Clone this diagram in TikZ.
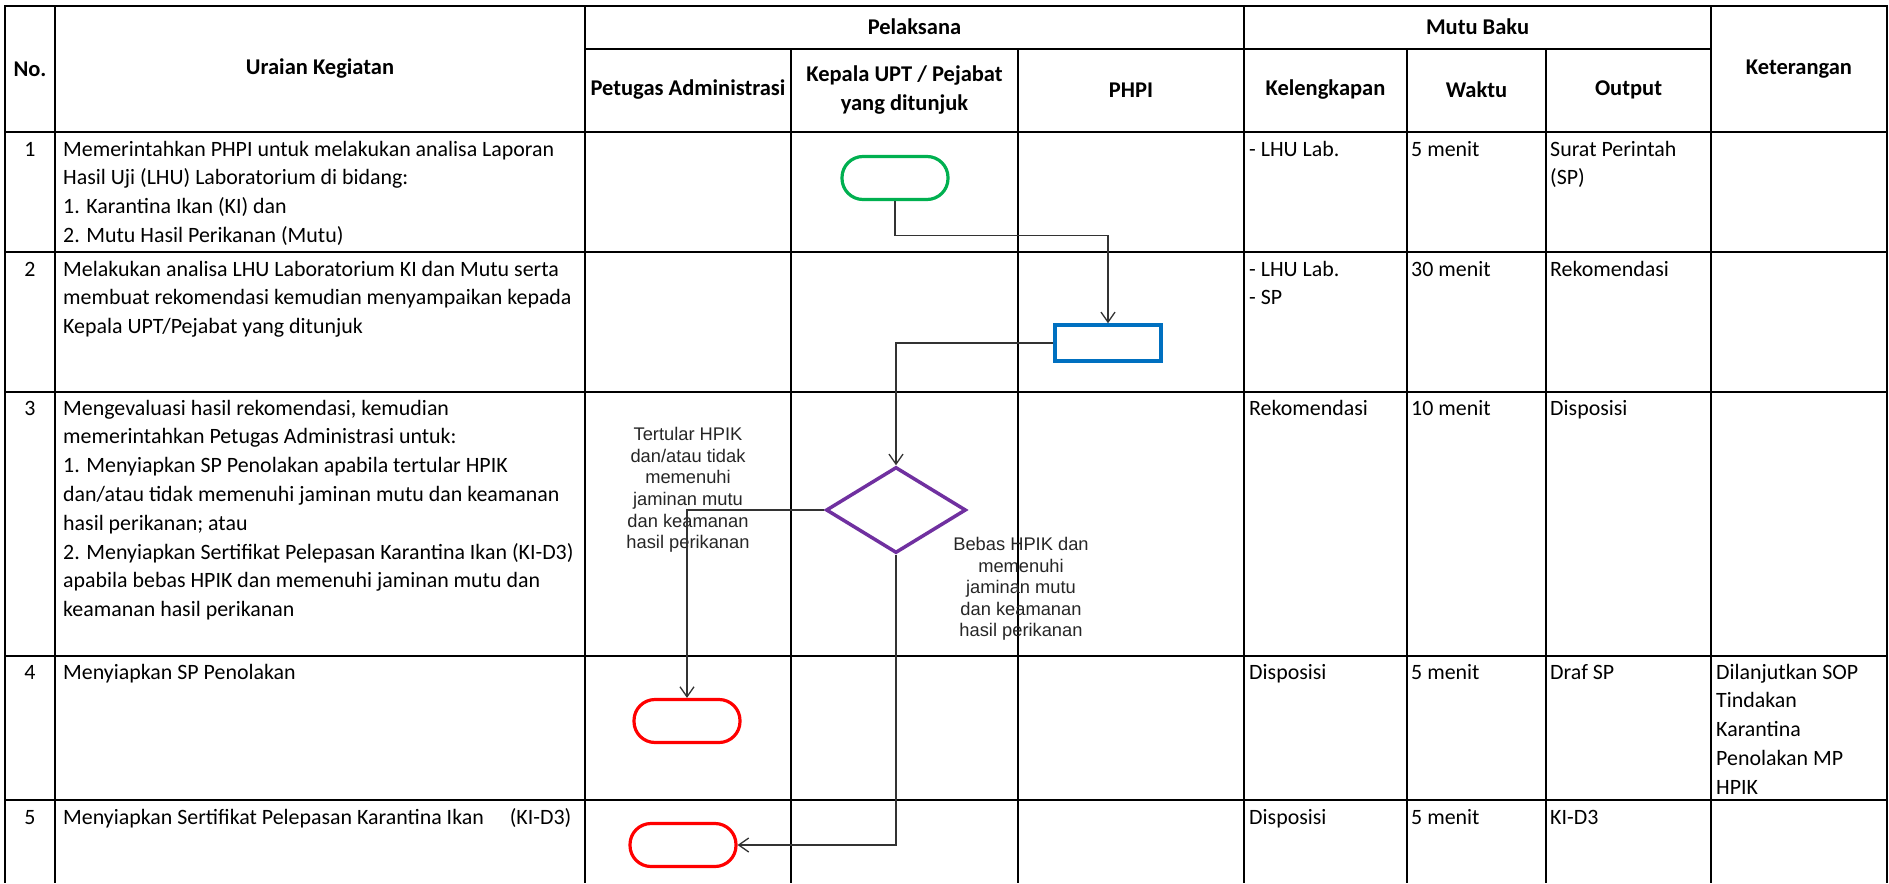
\documentclass[tikz,border=0pt]{standalone}
\usepackage{fontspec}
\setmainfont{Carlito}
\newfontfamily\arialf{Liberation Sans}
\usetikzlibrary{arrows.meta,shapes.geometric}
\definecolor{tgreen}{HTML}{00B050}
\definecolor{tblue}{HTML}{0070C0}
\definecolor{tpurple}{HTML}{7030A0}
\definecolor{tred}{HTML}{FF0000}
\newcommand{\celltxt}[1]{\begin{tabular}[t]{@{}l@{}}#1\end{tabular}}
\begin{document}
\begin{tikzpicture}[x=1pt,y=-1pt,
  grid/.style={line width=2.2pt,black},
  cell/.style={inner sep=0pt,anchor=base west,font=\fontsize{21.9}{28.8}\selectfont},
  num/.style={inner sep=0pt,anchor=base,font=\fontsize{21.9}{28.8}\selectfont},
  hdr/.style={inner sep=0pt,align=center,font=\fontsize{22.5}{28.5}\selectfont\bfseries},
  term/.style={draw,rectangle,rounded corners=21pt,minimum width=106pt,minimum height=43pt,line width=3.2pt,inner sep=0pt},
  proc/.style={draw,rectangle,minimum width=106pt,minimum height=36pt,line width=3.5pt,inner sep=0pt},
  dec/.style={draw,diamond,minimum width=140pt,minimum height=86pt,line width=3.5pt,inner sep=0pt},
  conn/.style={line width=1.3pt,black!80},
  arr/.style={conn,-{Straight Barb[length=10pt,width=14pt,line width=1.3pt]}},
  lbl/.style={inner sep=0pt,align=center,text=black!85,font=\arialf\fontsize{18.3}{21.6}\selectfont}
]
\useasboundingbox (0,0) rectangle (1889,883);
\fill[white] (0,0) rectangle (1889,883);

% ---- grid ----
\foreach \x in {5,55,585,1244,1711,1887} \draw[grid] (\x,6) -- (\x,883);
\foreach \x in {791,1018,1407,1546} \draw[grid] (\x,49) -- (\x,883);
\draw[grid] (4,6) -- (1888,6);
\draw[grid] (585,49) -- (1711,49);
\foreach \y in {132,252,392,656,800} \draw[grid] (4,\y) -- (1888,\y);

% ---- header ----
\node[hdr] (hno) at (30,69) {No.};
\node[hdr] (hur) at (320,69) {Uraian Kegiatan};
\node[hdr] (hpel) at (914.5,27) {Pelaksana};
\node[hdr] (hmb) at (1477.5,27) {Mutu Baku};
\node[hdr] (hket) at (1799,69) {Keterangan};
\node[hdr] (hpa) at (688,90) {Petugas Administrasi};
\node[hdr] (hkp) at (904.5,90) {Kepala UPT / Pejabat\\yang ditunjuk};
\node[hdr] (hph) at (1131,90) {PHPI};
\node[hdr] (hkel) at (1325.5,90) {Kelengkapan};
\node[hdr] (hwk) at (1476.5,90) {Waktu};
\node[hdr] (hout) at (1628.5,90) {Output};

% ---- row 1 ----
\node[num] (n1) at (30,156) {1};
\node[cell] (u1) at (63,156) {\celltxt{Memerintahkan PHPI untuk melakukan analisa Laporan\\Hasil Uji (LHU) Laboratorium di bidang:\\1. Karantina Ikan (KI) dan\\2. Mutu Hasil Perikanan (Mutu)}};
\node[cell] (k1) at (1249,156) {- LHU Lab.};
\node[cell] (w1) at (1411,156) {5 menit};
\node[cell] (o1) at (1550,156) {\celltxt{Surat Perintah\\(SP)}};

% ---- row 2 ----
\node[num] (n2) at (30,276) {2};
\node[cell] (u2) at (63,276) {\celltxt{Melakukan analisa LHU Laboratorium KI dan Mutu serta\\membuat rekomendasi kemudian menyampaikan kepada\\Kepala UPT/Pejabat yang ditunjuk}};
\node[cell] (k2) at (1249,276) {\celltxt{- LHU Lab.\\- SP}};
\node[cell] (w2) at (1411,276) {30 menit};
\node[cell] (o2) at (1550,276) {Rekomendasi};

% ---- row 3 ----
\node[num] (n3) at (30,415) {3};
\node[cell] (u3) at (63,415) {\celltxt{Mengevaluasi hasil rekomendasi, kemudian\\memerintahkan Petugas Administrasi untuk:\\1. Menyiapkan SP Penolakan apabila tertular HPIK\\dan/atau tidak memenuhi jaminan mutu dan keamanan\\hasil perikanan; atau\\2. Menyiapkan Sertifikat Pelepasan Karantina Ikan (KI-D3)\\apabila bebas HPIK dan memenuhi jaminan mutu dan\\keamanan hasil perikanan}};
\node[cell] (k3) at (1249,415) {Rekomendasi};
\node[cell] (w3) at (1411,415) {10 menit};
\node[cell] (o3) at (1550,415) {Disposisi};

% ---- row 4 ----
\node[num] (n4) at (30,679) {4};
\node[cell] (u4) at (63,679) {Menyiapkan SP Penolakan};
\node[cell] (k4) at (1249,679) {Disposisi};
\node[cell] (w4) at (1411,679) {5 menit};
\node[cell] (o4) at (1550,679) {Draf SP};
\node[cell] (r4) at (1716,679) {\celltxt{Dilanjutkan SOP\\Tindakan\\Karantina\\Penolakan MP\\HPIK}};

% ---- row 5 ----
\node[num] (n5) at (30,824) {5};
\node[cell] (u5) at (63,824) {Menyiapkan Sertifikat Pelepasan Karantina Ikan\hspace{26pt}(KI-D3)};
\node[cell] (k5) at (1249,824) {Disposisi};
\node[cell] (w5) at (1411,824) {5 menit};
\node[cell] (o5) at (1550,824) {KI-D3};

% ---- flow shapes ----
\node[term,draw=tgreen] (s1) at (895,178) {};
\node[proc,draw=tblue] (p1) at (1108,343) {};
\node[dec,draw=tpurple] (d1) at (896,510) {};
\node[term,draw=tred] (e1) at (687,721) {};
\node[term,draw=tred] (e2) at (683,845) {};

% ---- labels ----
\node[lbl] (l1) at (688,490) {Tertular HPIK\\dan/atau tidak\\memenuhi\\jaminan mutu\\dan keamanan\\hasil perikanan};
\node[lbl] (l2) at (1021,589) {Bebas HPIK dan\\memenuhi\\jaminan mutu\\dan keamanan\\hasil perikanan};

% ---- connectors ----
\draw[arr] (s1.south) -- ++(0,34.5) -| (p1.north);
\draw[arr] (p1.west) -| (d1.north);
\draw[arr] (d1.west) -| (e1.north);
\draw[arr] (d1.south) |- (e2.east);
\end{tikzpicture}
\end{document}
